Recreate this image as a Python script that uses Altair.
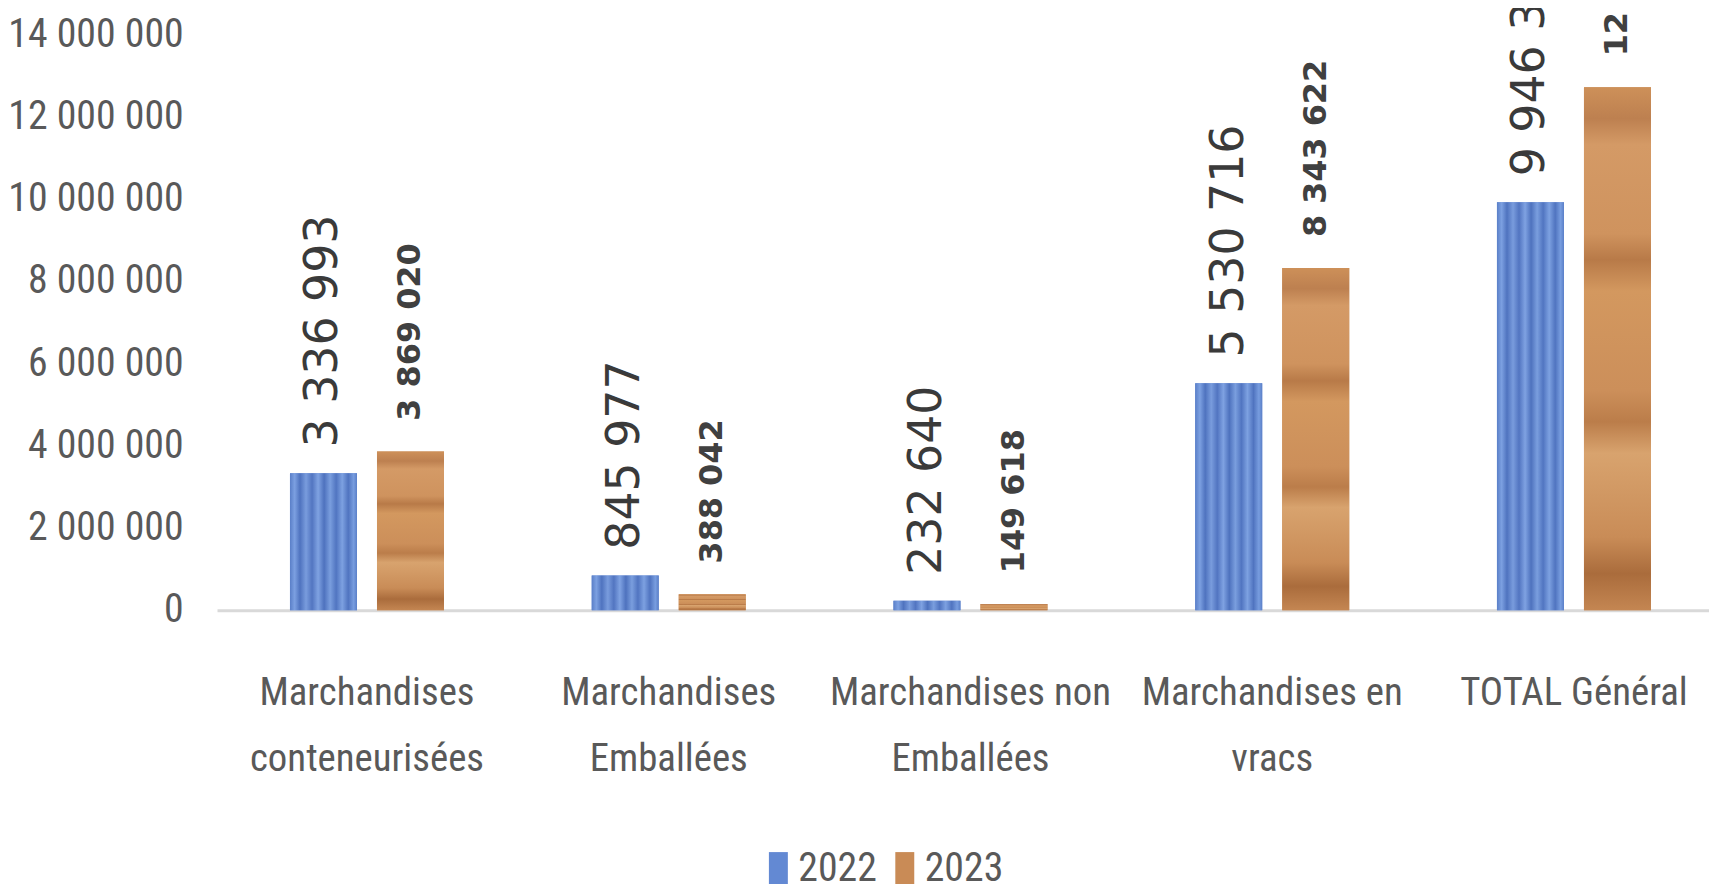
import altair as alt
import pandas as pd

# ---- data ----
categories = [
    "Marchandises\nconteneurisées",
    "Marchandises\nEmballées",
    "Marchandises non\nEmballées",
    "Marchandises en\nvracs",
    "TOTAL Général",
]
years = ["2022", "2023"]
values_2022 = [3336993, 845977, 232640, 5530716, 9946326]
values_2023 = [3869020, 388042, 149618, 8343622, 12750302]
y_ticks = [0, 2000000, 4000000, 6000000, 8000000, 10000000, 12000000, 14000000]


def fmt(v):
    return f"{v:,}".replace(",", " ")


rows = []
for c, a, b in zip(categories, values_2022, values_2023):
    rows.append({"cat": c, "year": "2022", "value": a, "label": fmt(a)})
    rows.append({"cat": c, "year": "2023", "value": b, "label": fmt(b)})
df = pd.DataFrame(rows)

NARROW = "Liberation Sans Narrow, Roboto Condensed, DejaVu Sans Condensed, Arial Narrow, sans-serif"
BLUE = "#6389d3"
WOOD = "#c98b56"

wood_grad = alt.LinearGradient(
    gradient="linear", x1=0, x2=0, y1=0, y2=1,
    stops=[
        alt.GradientStop(color="#cd9059", offset=0.0),
        alt.GradientStop(color="#bd8050", offset=0.06),
        alt.GradientStop(color="#d49a66", offset=0.11),
        alt.GradientStop(color="#cf935e", offset=0.28),
        alt.GradientStop(color="#b87a48", offset=0.33),
        alt.GradientStop(color="#d3985f", offset=0.39),
        alt.GradientStop(color="#cc8f5a", offset=0.58),
        alt.GradientStop(color="#bb7d4a", offset=0.64),
        alt.GradientStop(color="#d8a36e", offset=0.70),
        alt.GradientStop(color="#c98c57", offset=0.86),
        alt.GradientStop(color="#aa6c3c", offset=0.93),
        alt.GradientStop(color="#c48652", offset=1.0),
    ],
)
blue_grad = alt.LinearGradient(
    gradient="linear", x1=0, x2=1, y1=0, y2=0,
    stops=[
        alt.GradientStop(color="#5a7fc8", offset=0.0),
        alt.GradientStop(color="#7ca0e1", offset=0.07),
        alt.GradientStop(color="#4f73bf", offset=0.15),
        alt.GradientStop(color="#799cdd", offset=0.24),
        alt.GradientStop(color="#5275c1", offset=0.33),
        alt.GradientStop(color="#7fa2e2", offset=0.42),
        alt.GradientStop(color="#4e72be", offset=0.51),
        alt.GradientStop(color="#7a9ede", offset=0.6),
        alt.GradientStop(color="#5175c1", offset=0.69),
        alt.GradientStop(color="#7da1e1", offset=0.78),
        alt.GradientStop(color="#5074c0", offset=0.87),
        alt.GradientStop(color="#789ddf", offset=0.95),
        alt.GradientStop(color="#5a7fc8", offset=1.0),
    ],
)

x_enc = alt.X(
    "cat:N",
    sort=categories,
    scale=alt.Scale(paddingInner=0.4896, paddingOuter=0.2418, range=[0, 1514]),
    axis=alt.Axis(
        title=None,
        labelAngle=0,
        labelExpr="split(datum.label, '\\n')",
        labelFont=NARROW,
        labelFontSize=39,
        labelColor="#595959",
        labelPadding=64,
        labelLineHeight=66,
        labelLimit=0,
        labelOverlap=False,
        ticks=False,
        domainColor="#d9d9d9",
        domainWidth=3,
        grid=False,
    ),
)
xo_enc = alt.XOffset("year:N", sort=years, scale=alt.Scale(paddingInner=0.23))
y_enc = alt.Y(
    "value:Q",
    scale=alt.Scale(domain=[0, 14630000], nice=False, zero=True),
    axis=alt.Axis(
        title=None,
        values=y_ticks,
        labelExpr="replace(replace(format(datum.value, ',d'), ',', ' '), ',', ' ')",
        labelFont=NARROW,
        labelFontSize=40,
        labelColor="#595959",
        labelPadding=34,
        labelOffset=-1,
        labelLimit=0,
        ticks=False,
        domain=False,
        grid=False,
    ),
)

base = alt.Chart(df).encode(x=x_enc, xOffset=xo_enc, y=y_enc)

bars = base.mark_bar().encode(
    color=alt.Color(
        "year:N",
        sort=years,
        scale=alt.Scale(domain=years, range=[BLUE, WOOD]),
        legend=alt.Legend(
            title=None,
            orient="none",
            direction="horizontal",
            legendX=544,
            legendY=843,
            symbolType="M-0.56,-1H0.56V1H-0.56Z",
            symbolSize=1156,
            symbolStrokeWidth=0,
            labelFont=NARROW,
            labelFontSize=40,
            labelColor="#595959",
            labelOffset=0,
            columnPadding=8,
            padding=0,
        ),
    )
)
bars_2022 = base.mark_bar(fill=blue_grad).transform_filter(alt.datum.year == "2022")
bars_2023 = base.mark_bar(fill=wood_grad).transform_filter(alt.datum.year == "2023")

text_2022 = base.mark_text(
    angle=270, align="left", baseline="middle", dx=26,
    font="DejaVu Sans", fontSize=46, color="#3a3a3a",
).encode(text="label:N").transform_filter(alt.datum.year == "2022")
text_2023 = base.mark_text(
    angle=270, align="left", baseline="middle", dx=31,
    font="DejaVu Sans", fontSize=32, fontWeight="bold", color="#404040",
).encode(text="label:N").transform_filter(alt.datum.year == "2023")

chart = (
    alt.layer(bars, bars_2022, bars_2023, text_2022, text_2023)
    .properties(
        width=1499,
        height=603,
        padding={"left": 210, "top": 0, "right": 0, "bottom": 273},
        autosize=alt.AutoSizeParams(type="none"),
    )
    .configure_view(stroke=None)
)

chart.save("out.html", embed_options={"renderer": "svg", "actions": False})
